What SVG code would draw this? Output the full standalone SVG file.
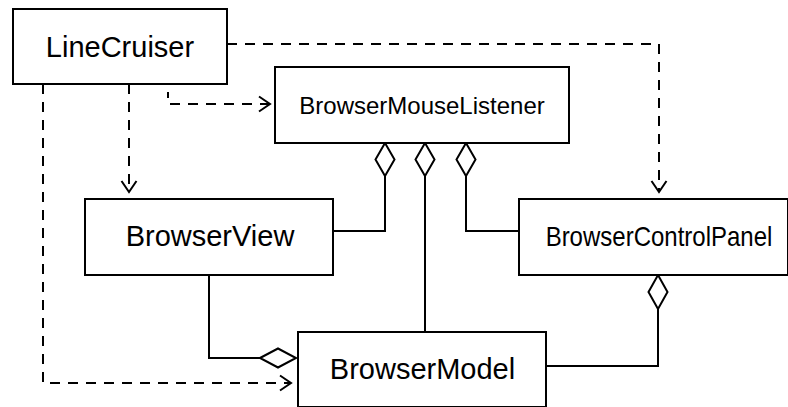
<svg xmlns="http://www.w3.org/2000/svg" width="788" height="407" viewBox="0 0 788 407">
<style>
.box{fill:#fff;stroke:#000;stroke-width:2}
.t{font-family:"Liberation Sans",Arial,sans-serif;fill:#000;text-anchor:middle}
.dep{fill:none;stroke:#000;stroke-width:2;stroke-dasharray:10 8}
.sol{fill:none;stroke:#000;stroke-width:2}
.dia{fill:#fff;stroke:#000;stroke-width:2;stroke-linejoin:miter}
</style>
<defs>
<marker id="arr" markerUnits="userSpaceOnUse" markerWidth="16" markerHeight="18" refX="12" refY="8.5" orient="auto" overflow="visible">
<path d="M1,1 L12,8.5 L1,16" fill="none" stroke="#000" stroke-width="2" stroke-dasharray="none"/>
</marker>
</defs>
<rect width="788" height="407" fill="#fff"/>
<g id="connectors">
<path class="dep" d="M227,44 H659 V192" marker-end="url(#arr)"/>
<path class="dep" d="M129,84 V192" marker-end="url(#arr)"/>
<path class="dep" style="stroke-dashoffset:4" d="M168,92 V104 H270" marker-end="url(#arr)"/>
<path class="dep" d="M43,84 V383 H291" marker-end="url(#arr)"/>
<path class="sol" d="M209,275 V358 H260"/>
<polygon class="dia" points="260,358 278,348.5 296,358 278,367.5"/>
<path class="sol" d="M385,176 V231 H333"/>
<polygon class="dia" points="385,143 394.5,159.5 385,176 375.5,159.5"/>
<path class="sol" d="M425,176 V332"/>
<polygon class="dia" points="425,143 434.5,159.5 425,176 415.5,159.5"/>
<path class="sol" d="M466,176 V231 H519"/>
<polygon class="dia" points="466,143 475.5,159.5 466,176 456.5,159.5"/>
<path class="sol" d="M658,309 V366 H546"/>
<polygon class="dia" points="658,275 667.5,292 658,309 648.5,292"/>
</g>
<g id="LineCruiser">
<rect class="box" x="13" y="9" width="214" height="75"/>
<text class="t" x="120" y="57" font-size="29">LineCruiser</text>
</g>
<g id="BrowserMouseListener">
<rect class="box" x="275" y="67" width="294" height="76"/>
<text class="t" x="422" y="114" font-size="24">BrowserMouseListener</text>
</g>
<g id="BrowserView">
<rect class="box" x="85" y="199" width="248" height="76"/>
<text class="t" x="210" y="246" font-size="29">BrowserView</text>
</g>
<g id="BrowserControlPanel">
<rect class="box" x="519" y="199" width="269" height="76"/>
<text class="t" transform="translate(659,246) scale(1,1.15)" font-size="24">BrowserControlPanel</text>
</g>
<g id="BrowserModel">
<rect class="box" x="298" y="332" width="248" height="75"/>
<text class="t" x="422.5" y="379" font-size="29">BrowserModel</text>
</g>
</svg>
